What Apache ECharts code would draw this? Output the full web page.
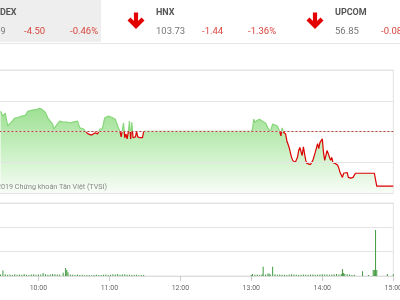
<!DOCTYPE html>
<html><head><meta charset="utf-8">
<script src="https://cdn.jsdelivr.net/npm/echarts@6/dist/echarts.min.js"></script>
<style>html,body{margin:0;padding:0;background:#fff}#c{width:400px;height:300px}</style>
</head><body><div id="c"></div>
<script>
const REF = 105.17;
const tickLabels = ['09:00','10:00','11:00','12:00','13:00','14:00','15:00'];
const priceTimes = ['09:28','09:30','09:32','09:34','09:38','09:40','09:43','09:46','09:49','09:51','09:55','09:59','10:01','10:03','10:06','10:08','10:12','10:13','10:16','10:18','10:21','10:24','10:27','10:29','10:33','10:35','10:38','10:40','10:42','10:45','10:48','10:50','10:52','10:54','10:56','10:59','11:02','11:05','11:07','11:09','11:10','11:11','11:12','11:13','11:14','11:15','11:16','11:17','11:18','11:19','11:20','11:21','11:22','11:23','11:24','11:25','11:26','11:27','11:28','11:29','11:30','13:00','13:01','13:02','13:03','13:05','13:07','13:09','13:12','13:14','13:16','13:18','13:22','13:24','13:25','13:26','13:27','13:29','13:30','13:32','13:34','13:35','13:37','13:39','13:40','13:41','13:43','13:44','13:46','13:47','13:50','13:52','13:54','13:56','13:57','13:58','14:00','14:01','14:02','14:04','14:05','14:07','14:08','14:09','14:11','14:13','14:14','14:15','14:17','14:18','14:19','14:21','14:22','14:24','14:25','14:26','14:28','14:44','14:46','15:00'];
const prices = [105.71,105.58,105.66,105.32,105.45,105.53,105.55,105.58,105.60,105.71,105.74,105.76,105.79,105.76,105.68,105.53,105.37,105.24,105.37,105.45,105.42,105.42,105.40,105.42,105.45,105.27,105.24,105.17,105.11,105.08,105.14,105.11,105.24,105.24,105.53,105.58,105.55,105.50,105.32,105.17,105.03,104.98,105.40,105.01,105.11,104.98,105.16,105.45,104.98,105.42,105.01,105.01,105.03,105.17,105.03,105.01,105.01,105.03,105.01,105.18,105.18,105.18,105.24,105.50,105.42,105.47,105.50,105.45,105.40,105.27,105.17,105.37,105.32,105.17,105.06,105.27,105.16,105.11,104.93,104.75,104.49,104.41,104.35,104.49,104.67,104.75,104.54,104.77,104.41,104.33,104.30,104.41,104.62,104.85,104.72,104.88,104.98,104.62,104.41,104.67,104.59,104.41,104.49,104.35,104.33,104.28,104.20,104.09,103.96,104.07,104.02,104.09,103.96,103.94,103.89,103.96,104.07,104.07,103.73,103.73];
const volTimes = ['09:28','09:30','09:32','09:34','09:36','09:38','09:40','09:42','09:44','09:46','09:48','09:50','09:52','09:54','09:56','09:58','10:00','10:02','10:04','10:06','10:08','10:10','10:12','10:14','10:16','10:18','10:21','10:23','10:24','10:25','10:27','10:29','10:31','10:33','10:35','10:37','10:39','10:41','10:43','10:45','10:47','10:49','10:51','10:53','10:55','10:57','10:59','11:01','11:03','11:05','11:07','11:09','11:11','11:13','11:15','11:17','11:19','11:21','11:23','11:25','11:27','11:29','13:00','13:01','13:03','13:05','13:07','13:09','13:10','13:12','13:14','13:15','13:16','13:18','13:20','13:22','13:24','13:26','13:28','13:30','13:32','13:34','13:36','13:38','13:40','13:42','13:44','13:46','13:48','13:50','13:52','13:54','13:56','13:58','14:00','14:02','14:04','14:06','14:08','14:10','14:12','14:14','14:16','14:17','14:18','14:19','14:21','14:23','14:25','14:27','14:34','14:39','14:43','14:44','14:45','14:46','14:55','15:00'];
const volumes = [60,230,70,50,60,45,70,55,60,50,80,55,45,60,70,50,65,60,125,70,55,60,80,70,60,60,130,330,250,150,60,50,45,60,40,50,35,40,45,35,40,50,45,40,55,60,45,50,70,60,80,55,60,75,50,55,45,40,50,35,45,40,40,80,50,60,45,70,380,60,90,100,60,380,70,55,60,50,55,45,60,70,65,50,45,55,60,50,55,60,65,50,55,60,70,60,65,55,60,70,80,65,90,290,120,80,70,60,45,50,200,40,250,250,1890,250,80,70];

function toMin(s){const p=s.split(':').map(Number);return (p[0]-9)*60+p[1];}
const priceData = priceTimes.map((t,i)=>[toMin(t),prices[i]]);
const volData = volTimes.map((t,i)=>[toMin(t),volumes[i]]);

// line colour split at the reference price (offset inside the line's own bounding box)
const pMax = Math.max(...prices), pMin = Math.min(...prices);
const off = (pMax - REF) / (pMax - pMin);
const GREEN_LINE = '#86d67a', RED_LINE = '#dd0000';
const lineGrad = new echarts.graphic.LinearGradient(0,0,0,1,[
  {offset:0,color:GREEN_LINE},{offset:off,color:GREEN_LINE},
  {offset:off,color:RED_LINE},{offset:1,color:RED_LINE}]);

const chart = echarts.init(document.getElementById('c'), null, {renderer:'canvas'});
const RED = '#d9463e';
const F = 'Roboto, sans-serif';
function arrow(cx){
  return [
    {type:'polyline', shape:{points:[[cx,12.5],[cx,26]]}, style:{stroke:'#e30000',lineWidth:4.2,fill:null}},
    {type:'polyline', shape:{points:[[cx-7,19],[cx,26],[cx+7,19]]}, style:{stroke:'#e30000',lineWidth:4.2,fill:null,lineJoin:'miter'}}
  ];
}
function txt(x,y,s,color,font,align){
  return {type:'text', z:100, style:{x:x,y:y,text:s,fill:color,font:font,align:align||'left',textAlign:align||'left',verticalAlign:'middle',textVerticalAlign:'middle'}};
}
const graphics = [
  {type:'rect', shape:{x:0,y:0,width:101,height:42}, style:{fill:'#eeeeee'}, z:-1},
  {type:'line', shape:{x1:0,y1:43.5,x2:400,y2:43.5}, style:{stroke:'#e6e6e6',lineWidth:1}},
  txt(16.5,13,'VN-INDEX','#555','bold 9px '+F,'right'),
  txt(5.5,32,'973.39','#777','9px '+F,'right'),
  txt(24,32,'-4.50',RED,'9.5px '+F),
  txt(70,32,'-0.46%',RED,'9.5px '+F),
  ...arrow(136),
  txt(156,13,'HNX','#555','bold 9px '+F),
  txt(156,32,'103.73','#777','9.5px '+F),
  txt(202,32,'-1.44',RED,'9.5px '+F),
  txt(248,32,'-1.36%',RED,'9.5px '+F),
  ...arrow(315),
  txt(335,13,'UPCOM','#555','bold 9px '+F),
  txt(335,32,'56.85','#777','9.5px '+F),
  txt(381,32,'-0.08',RED,'9.5px '+F),
  txt(107,187,'©2019 Chứng khoán Tân Việt (TVSI)','#888','7.2px '+F,'right')
];

const option = {
  animation:false,
  textStyle:{fontFamily:F},
  graphic: graphics,
  grid:[
    {left:-32.6, right:6.7, top:70, height:123.3, show:true, borderColor:'#e3e3e3', borderWidth:1, outerBoundsMode:'none', containLabel:false},
    {left:-32.6, right:6.7, top:203, bottom:24, show:true, borderColor:'#e3e3e3', borderWidth:1, outerBoundsMode:'none', containLabel:false}
  ],
  xAxis:[
    {type:'value', gridIndex:0, min:0, max:360, interval:60, show:false},
    {type:'value', gridIndex:1, min:0, max:360, interval:60,
     axisLine:{show:true,lineStyle:{color:'#dcdcdc'}},
     axisTick:{show:true,length:5,lineStyle:{color:'#cccccc'}},
     splitLine:{show:false},
     axisLabel:{fontSize:7, color:'#666', margin:9, formatter:v=>tickLabels[Math.round(v/60)]}}
  ],
  yAxis:[
    {type:'value', gridIndex:0, min:103.54, max:106.80, show:false, splitLine:{show:false}},
    {type:'value', gridIndex:0, min:0, max:4, interval:1, z:5, axisLabel:{show:false}, axisLine:{show:false}, axisTick:{show:false},
     splitLine:{show:true,lineStyle:{color:'#e4e4e4'}}},
    {type:'value', gridIndex:1, min:0, max:3000, interval:1000, axisLabel:{show:false}, axisLine:{show:false}, axisTick:{show:false},
     splitLine:{show:true,lineStyle:{color:'#e4e4e4'}}}
  ],
  series:[
    {type:'line', xAxisIndex:0, yAxisIndex:0, data:priceData, showSymbol:false, symbol:'none',
     lineStyle:{width:1.2, color:lineGrad}, itemStyle:{color:GREEN_LINE}, z:3,
     areaStyle:{opacity:1, color:new echarts.graphic.LinearGradient(0,0,0,1,[{offset:0,color:'#9ee093'},{offset:0.5,color:'#c9f0c3'},{offset:1,color:'#f8fdf7'}])},
     markLine:{silent:true, symbol:'none', label:{show:false}, z:6,
       lineStyle:{color:'#b8403a', type:[2,2], width:1}, data:[{yAxis:REF}]}},
    {type:'bar', xAxisIndex:1, yAxisIndex:2, data:volData, barWidth:1, itemStyle:{color:'#3f9a3f'}}
  ]
};
chart.setOption(option);
</script></body></html>
